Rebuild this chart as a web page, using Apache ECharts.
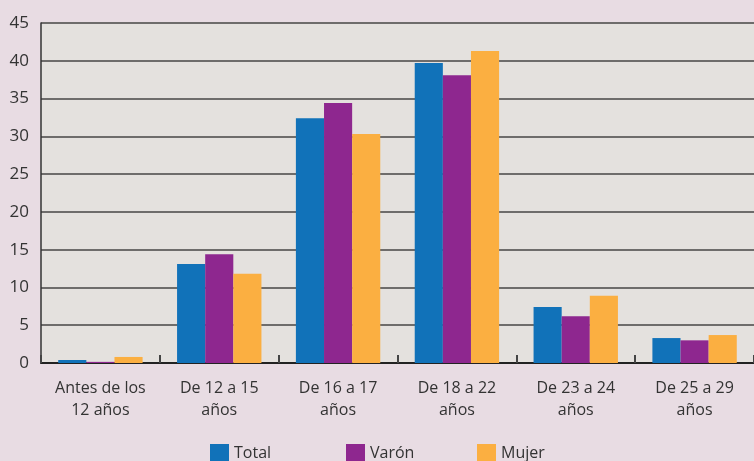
<!DOCTYPE html>
<html>
<head>
<meta charset="utf-8">
<script src="https://cdn.jsdelivr.net/npm/echarts@6/dist/echarts.min.js"></script>
<style>
  html, body { margin: 0; padding: 0; background: #e8dce3; }
  #main { width: 754px; height: 461px; }
</style>
</head>
<body>
<div id="main"></div>
<script>
const categories = ["Antes de los\n12 años", "De 12 a 15\naños", "De 16 a 17\naños", "De 18 a 22\naños", "De 23 a 24\naños", "De 25 a 29\naños"];
const total = [0.4, 13.1, 32.4, 39.7, 7.4, 3.3];
const varon = [0.15, 14.4, 34.4, 38.1, 6.2, 3.0];
const mujer = [0.8, 11.8, 30.3, 41.3, 8.9, 3.7];
const yTicks = [0, 5, 10, 15, 20, 25, 30, 35, 40, 45];
const seriesNames = ["Total", "Varón", "Mujer"];

const font = "'Open Sans', sans-serif";

// one legend per item so the spacing matches the original
const legendLeft = [210, 346, 477];
const legends = seriesNames.map((name, i) => ({
  top: 444,
  left: legendLeft[i],
  padding: 0,
  itemWidth: 19,
  itemHeight: 19,
  itemGap: 10,
  icon: "rect",
  textStyle: { fontSize: 16, color: "#333", fontFamily: font },
  data: [name]
}));

const myChart = echarts.init(document.getElementById("main"));
myChart.setOption({
  backgroundColor: "#e8dce3",
  textStyle: { fontFamily: font },
  legend: legends,
  grid: {
    show: true,
    backgroundColor: "#e4e1de",
    borderWidth: 0,
    left: 41,
    top: 23,
    width: 714,
    height: 340
  },
  xAxis: {
    type: "category",
    data: categories,
    axisLine: { show: true, lineStyle: { color: "#222", width: 2 } },
    axisTick: { show: true, inside: true, length: 8, lineStyle: { color: "#444", width: 2 } },
    axisLabel: { fontSize: 16, color: "#333", margin: 14, lineHeight: 22, fontFamily: font }
  },
  yAxis: {
    type: "value",
    min: yTicks[0],
    max: yTicks[yTicks.length - 1],
    interval: 5,
    axisLine: { show: true, lineStyle: { color: "#333", width: 1.5 } },
    axisTick: { show: false },
    splitLine: { show: true, lineStyle: { color: "#6e6c6b", width: 2 } },
    axisLabel: { fontSize: 17, color: "#333", margin: 12, fontFamily: font }
  },
  series: [
    { name: "Total", type: "bar", data: total, itemStyle: { color: "#1172b9" }, barGap: "0%", barCategoryGap: "29%" },
    { name: "Varón", type: "bar", data: varon, itemStyle: { color: "#8e278f" } },
    { name: "Mujer", type: "bar", data: mujer, itemStyle: { color: "#fbaf41" } }
  ]
});
</script>
</body>
</html>
